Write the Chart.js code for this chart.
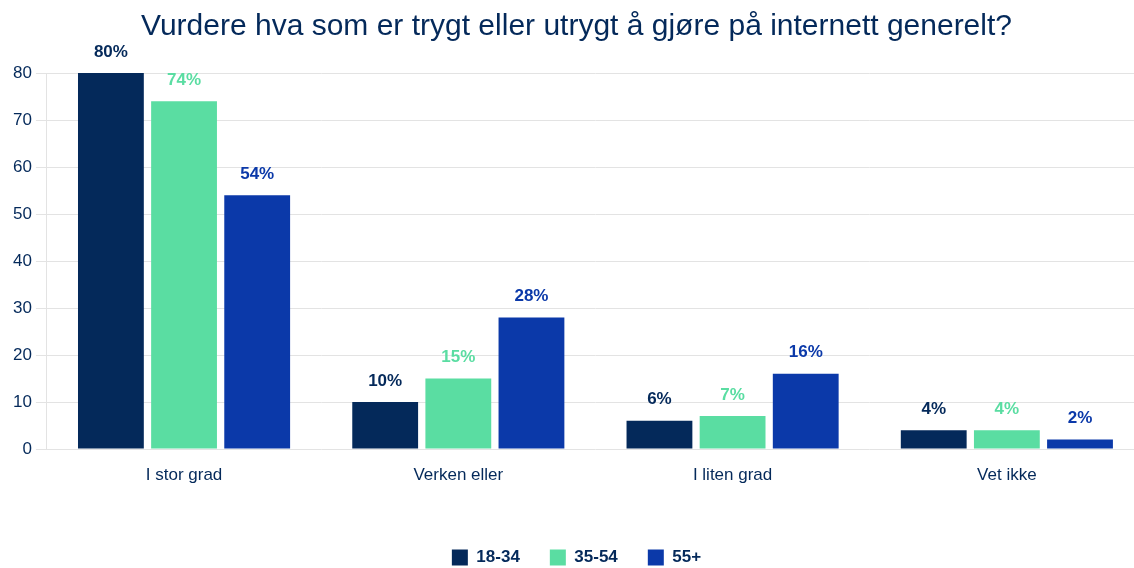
<!DOCTYPE html>
<html>
<head>
<meta charset="utf-8">
<script src="https://cdn.jsdelivr.net/npm/chart.js@4.4.1/dist/chart.umd.min.js"></script>
<style>
  html, body { margin: 0; padding: 0; background: #fff; overflow: hidden; }
  #wrap { width: 1144px; height: 576px; }
</style>
</head>
<body>
<div id="wrap"><canvas id="canvas"></canvas></div>
<script>
const categories = ['I stor grad', 'Verken eller', 'I liten grad', 'Vet ikke'];
const seriesNames = ['18-34', '35-54', '55+'];
const age18to34 = [80, 10, 6, 4];
const age35to54 = [74, 15, 7, 4];
const age55plus = [54, 28, 16, 2];
const yTicks = [0, 10, 20, 30, 40, 50, 60, 70, 80];

const NAVY = '#04295a';
const MINT = '#5adda2';
const BLUE = '#0b39a9';
const FONT = "'Liberation Sans', Arial, Helvetica, sans-serif";

const ctx = document.getElementById('canvas').getContext('2d');

// draws the "80%" labels above each bar
const valueLabels = {
    id: 'valueLabels',
    afterDatasetsDraw(chart) {
        const c = chart.ctx;
        c.save();
        c.font = 'bold 17px ' + FONT;
        c.textAlign = 'center';
        c.textBaseline = 'middle';
        chart.data.datasets.forEach((ds, i) => {
            const meta = chart.getDatasetMeta(i);
            meta.data.forEach((bar, j) => {
                c.fillStyle = ds.labelColor;
                c.fillText(ds.data[j] + '%', bar.x, bar.y - 21);
            });
        });
        c.restore();
    }
};

const colors = [NAVY, MINT, BLUE];
const values = [age18to34, age35to54, age55plus];

const config = {
    type: 'bar',
    data: {
        labels: categories,
        datasets: seriesNames.map((name, i) => ({
            label: name,
            data: values[i],
            backgroundColor: colors[i],
            labelColor: colors[i],
            borderWidth: 0,
            categoryPercentage: 0.8,
            barPercentage: 0.9
        }))
    },
    options: {
        responsive: true,
        maintainAspectRatio: false,
        animation: false,
        layout: { padding: { left: 9, right: 0, top: 0, bottom: 0 } },
        plugins: {
            title: {
                display: true,
                text: 'Vurdere hva som er trygt eller utrygt å gjøre på internett generelt?',
                color: NAVY,
                font: { family: FONT, size: 30, weight: 'normal' },
                padding: { top: 9, bottom: 28 }
            },
            legend: {
                position: 'bottom',
                labels: {
                    color: NAVY,
                    font: { family: FONT, size: 17, weight: 'bold' },
                    boxWidth: 16,
                    boxHeight: 16,
                    padding: 30
                }
            },
            tooltip: { enabled: false }
        },
        scales: {
            x: {
                grid: { display: false, drawTicks: false },
                border: { display: false },
                ticks: { color: NAVY, font: { family: FONT, size: 17 }, padding: 16 },
                afterFit(scale) { scale.height = 70; }
            },
            y: {
                min: 0,
                max: 80,
                afterBuildTicks(scale) { scale.ticks = yTicks.map(v => ({ value: v })); },
                grid: { color: '#e3e3e3', tickLength: 11 },
                border: { color: '#e3e3e3' },
                ticks: { color: NAVY, font: { family: FONT, size: 17 }, padding: 4 }
            }
        }
    },
    plugins: [valueLabels]
};

new Chart(ctx, config);
</script>
</body>
</html>
